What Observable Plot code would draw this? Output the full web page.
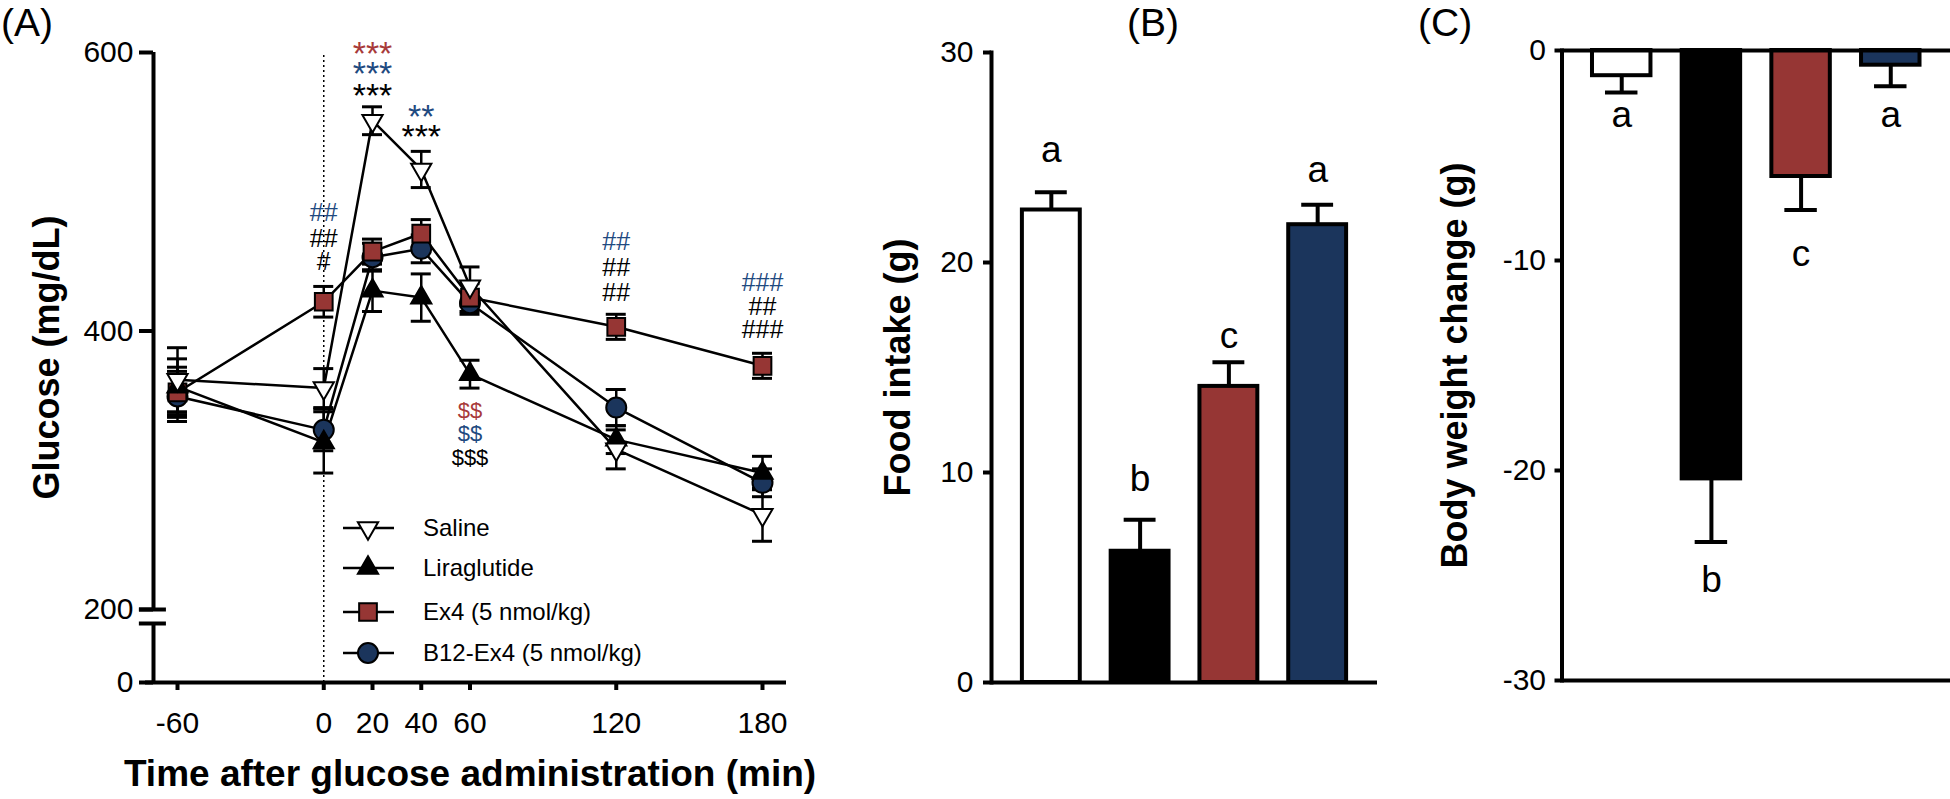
<!DOCTYPE html>
<html><head><meta charset="utf-8">
<script src="https://cdn.jsdelivr.net/npm/d3@7"></script>
<script src="https://cdn.jsdelivr.net/npm/@observablehq/plot@0.6"></script>
<style>
html,body{margin:0;padding:0;background:#fff;}
#wrap{position:relative;width:1950px;height:799px;overflow:hidden;font-family:"Liberation Sans",Arial,sans-serif;color:#000;}
.panel{position:absolute;top:0;}
.tag{position:absolute;font-size:39px;line-height:39px;top:3px;color:#000;}
</style></head><body>
<div id="wrap"></div>
<script>
// ---------- Panel A data: glucose (mg/dL) ----------
const times = [-60, 0, 20, 40, 60, 120, 180];
const xTicks = [-60, 0, 20, 40, 60, 120, 180];
const yTicksA = [0, 200, 400, 600];
const salineMean = [365, 359, 551, 516, 432, 315, 268];
const salineErr  = [23, 14, 10, 13, 14, 14, 19];
const liraMean   = [360, 320, 429, 424, 369, 322, 298];
const liraErr    = [20, 22, 15, 17, 10, 10, 12];
const ex4Mean    = [356, 421, 457, 470, 424, 403, 375];
const ex4Err     = [18, 11, 9, 10, 10, 9, 9];
const b12Mean    = [353, 329, 453, 459, 420, 345, 291];
const b12Err     = [18, 15, 10, 10, 8, 13, 10];
const seriesNames = ["Saline", "Liraglutide", "Ex4 (5 nmol/kg)", "B12-Ex4 (5 nmol/kg)"];

// significance annotations (panel A)
const annotX    = [20, 20, 20, 40, 40, 0, 0, 0, 120, 120, 120, 180, 180, 180, 60, 60, 60];
const annotY    = [598.6, 584.2, 568.4, 553.3, 539, 485, 466.4, 449.2, 463.6, 445.6, 427.6, 434.8, 416.9, 400.4, 342.9, 326.4, 309.1];
const annotText = ["***", "***", "***", "**", "***", "##", "##", "#", "##", "##", "##", "###", "##", "###", "$$", "$$", "$$$"];
const annotGrp  = ["ex4", "b12", "lira", "b12", "lira", "b12", "lira", "lira", "b12", "lira", "lira", "b12", "lira", "lira", "ex4", "b12", "lira"];

// ---------- Panel B data: food intake (g) ----------
const groups = ["Saline", "Liraglutide", "Ex4", "B12-Ex4"];
const foodMean = [22.5, 6.25, 14.1, 21.8];
const foodErr  = [0.85, 1.5, 1.15, 0.95];
const foodLetters = ["a", "b", "c", "a"];
const foodLetterY = [25.35, 9.7, 16.5, 24.4];
const yTicksB = [0, 10, 20, 30];

// ---------- Panel C data: body weight change (g) ----------
const bwMean = [-1.2, -20.4, -6.0, -0.7];
const bwErr  = [0.8, 3.0, 1.6, 1.0];
const bwLetters = ["a", "b", "c", "a"];
const bwLetterY = [-3.1, -25.2, -9.7, -3.1];
const yTicksC = [0, -10, -20, -30];

// ---------- styling ----------
const RED = "#963634", BLUE = "#1b355c";
const groupFill = ["#ffffff", "#000000", RED, BLUE];
const annotColor = {ex4: "#a83a3a", b12: "#1f4a80", lira: "#000000"};
const FONT = '"Liberation Sans", Arial, sans-serif';
const sqrt3 = Math.sqrt(3);
const triangleDown = {draw(context, size) {
  const y = Math.sqrt(size / (sqrt3 * 3));
  context.moveTo(0, y * 2); context.lineTo(-sqrt3 * y, -y); context.lineTo(sqrt3 * y, -y); context.closePath();
}};
const fmt = d => String(d);
const baseStyle = {fontFamily: FONT, background: "transparent", overflow: "visible", color: "black"};

const wrap = document.getElementById("wrap");
function place(el, left) { el.classList.add("panel"); el.style.left = left + "px"; wrap.appendChild(el); }

// ---------- Panel A ----------
// broken y axis: 0–195 compressed below the break, 200–600 linear above it
const BRK_LO = 195, BRK_HI = 200, U0 = 147.58, U195 = 189.95;
const toY = v => v >= BRK_HI ? v
  : v <= BRK_LO ? U0 + v * (U195 - U0) / BRK_LO
  : U195 + (v - BRK_LO) * (BRK_HI - U195) / (BRK_HI - BRK_LO);
const fromY = u => u >= BRK_HI ? u : Math.round((u - U0) * BRK_LO / (U195 - U0));

const mk = (mean, err, s) => times.map((t, i) => ({t, v: mean[i], e: err[i], s}));
const saline = mk(salineMean, salineErr, "saline");
const lira = mk(liraMean, liraErr, "lira");
const ex4 = mk(ex4Mean, ex4Err, "ex4");
const b12 = mk(b12Mean, b12Err, "b12");
const all = [...saline, ...lira, ...ex4, ...b12];
const annots = annotX.map((t, i) => ({t, y: annotY[i], s: annotText[i], c: annotColor[annotGrp[i]]}));

const X0 = -69.85, X1 = 189.85, CAP = 4.1;
const plotA = Plot.plot({
  width: 830, height: 799, marginLeft: 153, marginRight: 44, marginTop: 52, marginBottom: 117,
  style: baseStyle,
  x: {domain: [X0, X1]},
  y: {domain: [U0, 600]},
  marks: [
    Plot.ruleX([0], {y1: toY(0), y2: 600, strokeWidth: 1.5, strokeDasharray: "2,3"}),
    ...[saline, lira, ex4, b12].map(d => Plot.line(d, {x: "t", y: d => toY(d.v), stroke: "black", strokeWidth: 2.5})),
    Plot.ruleX(all, {x: "t", y1: d => toY(d.v - d.e), y2: d => toY(d.v + d.e), strokeWidth: 2.5}),
    Plot.ruleY(all, {y: d => toY(d.v + d.e), x1: d => d.t - CAP, x2: d => d.t + CAP, strokeWidth: 3}),
    Plot.ruleY(all, {y: d => toY(d.v - d.e), x1: d => d.t - CAP, x2: d => d.t + CAP, strokeWidth: 3}),
    Plot.dot(b12, {x: "t", y: d => toY(d.v), symbol: "circle", r: 10, fill: BLUE, stroke: "black", strokeWidth: 2}),
    Plot.dot(ex4, {x: "t", y: d => toY(d.v), symbol: "square", r: 10, fill: RED, stroke: "black", strokeWidth: 2}),
    Plot.dot(lira, {x: "t", y: d => toY(d.v), symbol: "triangle", r: 7.5, fill: "black", stroke: "black", strokeWidth: 2}),
    Plot.dot(saline, {x: "t", y: d => toY(d.v), symbol: triangleDown, r: 7.5, fill: "white", stroke: "black", strokeWidth: 2}),
    Plot.text(annots, {x: "t", y: d => toY(d.y), text: "s", fill: "c",
      fontSize: d => d.s.includes("*") ? 34 : d.s.includes("#") ? 25 : 22}),
    // axes
    Plot.ruleX([X0], {y1: toY(0), y2: toY(BRK_LO), strokeWidth: 4}),
    Plot.ruleX([X0], {y1: toY(BRK_HI), y2: 600, strokeWidth: 4}),
    Plot.ruleY([toY(0)], {x1: X0 - 3.3, x2: X1, strokeWidth: 4}),
    Plot.ruleY([toY(BRK_LO), toY(BRK_HI)], {x1: X0 - 5.8, x2: X0 + 5.3, strokeWidth: 4}),
    Plot.axisY({ticks: yTicksA.map(toY), tickFormat: u => String(fromY(u)), tickSize: 14, tickPadding: 6, fontSize: 30, strokeWidth: 4, label: null}),
    Plot.axisX({ticks: xTicks, tickFormat: fmt, tickSize: 8, tickPadding: 21, fontSize: 30, strokeWidth: 4, label: null}),
    Plot.text(["Time after glucose administration (min)"], {frameAnchor: "bottom", textAnchor: "middle", lineAnchor: "middle", dy: 92, fontSize: 37, fontWeight: "bold"}),
    Plot.text(["Glucose (mg/dL)"], {frameAnchor: "left", textAnchor: "middle", lineAnchor: "middle", dx: -106, dy: -10, rotate: -90, fontSize: 36, fontWeight: "bold"})
  ]
});
place(plotA, 0);

// legend (inside panel A)
const legendY = [528, 568, 612, 653];
const legSym = [triangleDown, d3.symbolTriangle, d3.symbolSquare, d3.symbolCircle];
const legR = [7.5, 7.5, 10, 10];
const legFill = ["white", "black", RED, BLUE];
const leg = d3.create("svg").attr("width", 830).attr("height", 799).style("font-family", FONT);
seriesNames.forEach((name, i) => {
  const g = leg.append("g").attr("transform", `translate(368,${legendY[i]})`);
  g.append("line").attr("x1", -25).attr("x2", 26).attr("stroke", "black").attr("stroke-width", 2.5);
  g.append("path").attr("d", d3.symbol(legSym[i], legR[i] * legR[i] * Math.PI)())
    .attr("fill", legFill[i]).attr("stroke", "black").attr("stroke-width", 2);
  leg.append("text").attr("x", 423).attr("y", legendY[i]).attr("dy", "0.35em")
    .attr("font-size", 24).text(name);
});
place(leg.node(), 0);

// ---------- Panel B ----------
const foodData = groups.map((g, i) => ({g, v: foodMean[i], e: foodErr[i], c: groupFill[i], l: foodLetters[i], ly: foodLetterY[i]}));
const plotB = Plot.plot({
  width: 560, height: 799, marginLeft: 161, marginRight: 13, marginTop: 52, marginBottom: 117,
  style: baseStyle,
  x: {domain: groups, paddingInner: 0.348, paddingOuter: 0.348, round: false, axis: null},
  y: {domain: [0, 30]},
  color: {type: "identity"},
  marks: [
    Plot.ruleX(foodData, {x: "g", y1: "v", y2: d => d.v + d.e, strokeWidth: 4}),
    Plot.tickY(foodData, {x: "g", y: d => d.v + d.e, strokeWidth: 4, insetLeft: 13, insetRight: 13}),
    Plot.barY(foodData, {x: "g", y: "v", fill: "c", stroke: "black", strokeWidth: 4}),
    Plot.text(foodData, {x: "g", y: "ly", text: "l", fontSize: 37}),
    Plot.ruleY([0], {strokeWidth: 4}),
    Plot.frame({anchor: "left", strokeWidth: 4}),
    Plot.axisY({ticks: yTicksB, tickFormat: fmt, tickSize: 8, tickPadding: 10, fontSize: 30, strokeWidth: 4, label: null}),
    Plot.text(["Food intake (g)"], {frameAnchor: "left", textAnchor: "middle", lineAnchor: "middle", dx: -93, rotate: -90, fontSize: 36, fontWeight: "bold"})
  ]
});
place(plotB, 830);

// ---------- Panel C ----------
const bwData = groups.map((g, i) => ({g, v: bwMean[i], e: bwErr[i], c: groupFill[i], l: bwLetters[i], ly: bwLetterY[i]}));
const plotC = Plot.plot({
  width: 560, height: 799, marginLeft: 171.5, marginRight: 0, marginTop: 50, marginBottom: 119,
  style: baseStyle,
  x: {domain: groups, paddingInner: 0.348, paddingOuter: 0.34, round: false, axis: null},
  y: {domain: [-30, 0]},
  color: {type: "identity"},
  marks: [
    Plot.ruleX(bwData, {x: "g", y1: "v", y2: d => d.v - d.e, strokeWidth: 4}),
    Plot.tickY(bwData, {x: "g", y: d => d.v - d.e, strokeWidth: 4, insetLeft: 13, insetRight: 13}),
    Plot.barY(bwData, {x: "g", y: "v", fill: "c", stroke: "black", strokeWidth: 4}),
    Plot.text(bwData, {x: "g", y: "ly", text: "l", fontSize: 37}),
    Plot.ruleY([0, -30], {strokeWidth: 4}),
    Plot.frame({anchor: "left", strokeWidth: 4}),
    Plot.axisY({ticks: yTicksC, tickFormat: fmt, tickSize: 7, tickPadding: 9, fontSize: 30, strokeWidth: 4, label: null}),
    Plot.text(["Body weight change (g)"], {frameAnchor: "left", textAnchor: "middle", lineAnchor: "middle", dx: -106.5, rotate: -90, fontSize: 36, fontWeight: "bold"})
  ]
});
place(plotC, 1390);

// panel tags
[["(A)", 1], ["(B)", 1127], ["(C)", 1418]].forEach(([t, x]) => {
  const d = document.createElement("div"); d.className = "tag"; d.style.left = x + "px"; d.textContent = t; wrap.appendChild(d);
});
</script>
</body></html>
